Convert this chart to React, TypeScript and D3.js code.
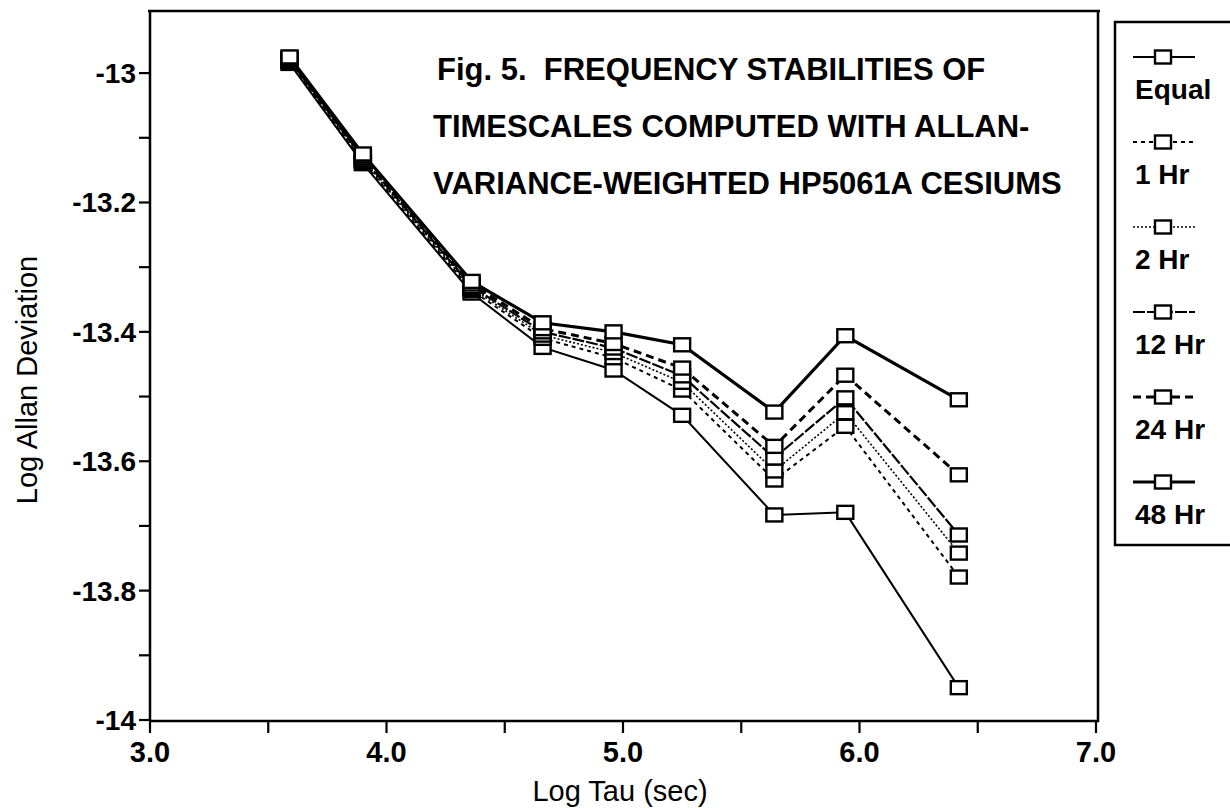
import React from "react";
import * as d3 from "d3";

const tauValues = [3.59, 3.9, 4.36, 4.66, 4.96, 5.25, 5.64, 5.94, 6.42];
const seriesNames = ["Equal", "1 Hr", "2 Hr", "12 Hr", "24 Hr", "48 Hr"];
const equalValues = [-12.985, -13.14, -13.34, -13.424, -13.459, -13.529, -13.683, -13.679, -13.95];
const hr1Values = [-12.983, -13.137, -13.336, -13.41, -13.44, -13.49, -13.629, -13.546, -13.779];
const hr2Values = [-12.981, -13.134, -13.333, -13.405, -13.432, -13.478, -13.615, -13.525, -13.742];
const hr12Values = [-12.979, -13.131, -13.33, -13.4, -13.425, -13.468, -13.595, -13.502, -13.714];
const hr24Values = [-12.977, -13.128, -13.326, -13.395, -13.418, -13.456, -13.577, -13.467, -13.621];
const hr48Values = [-12.975, -13.125, -13.322, -13.386, -13.4, -13.42, -13.524, -13.406, -13.505];
const xTickLabels = ["3.0", "4.0", "5.0", "6.0", "7.0"];
const yTickLabels = ["-14", "-13.8", "-13.6", "-13.4", "-13.2", "-13"];
const titleLines = [
  "Fig. 5.\u00a0 FREQUENCY STABILITIES OF",
  "TIMESCALES COMPUTED WITH ALLAN-",
  "VARIANCE-WEIGHTED HP5061A CESIUMS",
];

const seriesValues = [equalValues, hr1Values, hr2Values, hr12Values, hr24Values, hr48Values];
const seriesStyles = [
  { w: 2, dash: "" },
  { w: 2, dash: "4,4" },
  { w: 1.6, dash: "2,2" },
  { w: 2.2, dash: "12,2" },
  { w: 3, dash: "8,5" },
  { w: 3.2, dash: "" },
];

const W = 1230;
const H = 808;
const FONT = "'Liberation Sans', Arial, Helvetica, sans-serif";

export default function App() {
  const x = d3.scaleLinear().domain([3, 7]).range([150, 1096]);
  const y = d3.scaleLinear().domain([-14, -12.904]).range([720, 11]);
  const line = d3
    .line<number>()
    .x((_, i) => x(tauValues[i]))
    .y((d) => y(d));

  const xMajor = xTickLabels.map((t) => +t);
  const xMinor = d3.range(3.5, 7, 1);
  const yMajor = yTickLabels.map((t) => +t);
  const yMinor = d3.range(-13.9, -12.95, 0.2);

  const sq = (cx: number, cy: number, key: string) => (
    <rect key={key} x={cx - 8} y={cy - 6.5} width={16} height={13} fill="white" stroke="black" strokeWidth={2.4} />
  );

  const legendX0 = 1133;
  const legendX1 = 1195;
  const legendSq = 1163;

  return (
    <svg width={W} height={H} style={{ position: "absolute", left: 0, top: 0, background: "white" }} fontFamily={FONT}>
      <rect x={0} y={0} width={W} height={H} fill="white" />
      {/* frame */}
      <line x1={148} y1={11} x2={1100} y2={11} stroke="black" strokeWidth={2.5} />
      <line x1={1098} y1={11} x2={1098} y2={722} stroke="black" strokeWidth={2.5} />
      <line x1={x(3)} y1={11} x2={x(3)} y2={721} stroke="black" strokeWidth={2.5} />
      <line x1={x(3) - 1} y1={721} x2={1099} y2={721} stroke="black" strokeWidth={2.5} />

      {/* y ticks */}
      {yMajor.map((v, i) => (
        <g key={"ym" + i}>
          <line x1={x(3) - 11} x2={x(3)} y1={y(v)} y2={y(v)} stroke="black" strokeWidth={2.2} />
          <text x={x(3) - 14} y={y(v) + 10} textAnchor="end" fontSize={28} fontWeight="bold">
            {yTickLabels[i]}
          </text>
        </g>
      ))}
      {yMinor.map((v, i) => (
        <line key={"yn" + i} x1={x(3) - 11} x2={x(3)} y1={y(v)} y2={y(v)} stroke="black" strokeWidth={2.2} />
      ))}
      {/* x ticks */}
      {xMajor.map((v, i) => (
        <g key={"xm" + i}>
          <line x1={x(v)} x2={x(v)} y1={721} y2={733} stroke="black" strokeWidth={2.2} />
          <text x={x(v)} y={762} textAnchor="middle" fontSize={29} fontWeight="bold">
            {xTickLabels[i]}
          </text>
        </g>
      ))}
      {xMinor.map((v, i) => (
        <line key={"xn" + i} x1={x(v)} x2={x(v)} y1={721} y2={733} stroke="black" strokeWidth={2.2} />
      ))}

      {/* axis titles */}
      <text x={620} y={801} textAnchor="middle" fontSize={29}>
        Log Tau (sec)
      </text>
      <text transform={`translate(37,380) rotate(-90)`} textAnchor="middle" fontSize={29}>
        Log Allan Deviation
      </text>

      {/* title */}
      {titleLines.map((t, i) => (
        <text key={"t" + i} x={i === 0 ? 437 : 433} y={80 + i * 57} fontSize={31} fontWeight="bold">
          {t}
        </text>
      ))}

      {/* series */}
      {seriesValues.map((vals, s) => (
        <g key={"s" + s}>
          <path
            d={line(vals) || ""}
            fill="none"
            stroke="black"
            strokeWidth={seriesStyles[s].w}
            strokeDasharray={seriesStyles[s].dash}
          />
        </g>
      ))}
      {seriesValues.map((vals, s) => (
        <g key={"m" + s}>{vals.map((v, i) => sq(x(tauValues[i]), y(v), `p${s}-${i}`))}</g>
      ))}

      {/* legend */}
      <rect x={1115} y={22} width={140} height={523} fill="white" stroke="black" strokeWidth={2.5} />
      {seriesNames.map((n, i) => {
        const sy = 57 + 85 * i;
        return (
          <g key={"l" + i}>
            <line
              x1={legendX0}
              x2={legendX1}
              y1={sy}
              y2={sy}
              stroke="black"
              strokeWidth={seriesStyles[i].w}
              strokeDasharray={seriesStyles[i].dash}
            />
            {sq(legendSq, sy, "lg" + i)}
            <text x={1135} y={sy + 42} fontSize={28} fontWeight="bold">
              {n}
            </text>
          </g>
        );
      })}
    </svg>
  );
}
